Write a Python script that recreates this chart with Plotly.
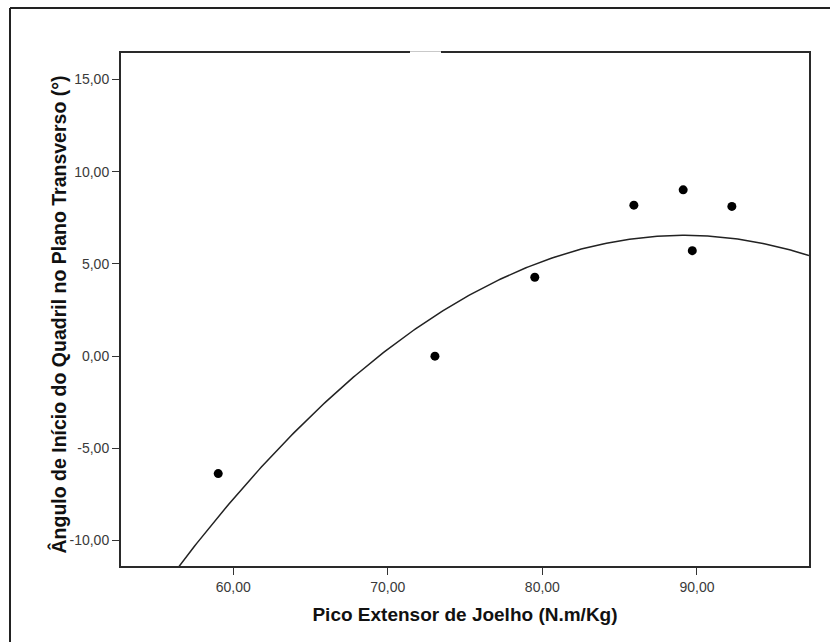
import numpy as np
import plotly.graph_objects as go

# Data
knee_extensor_peak = [59.03, 73.05, 79.51, 85.92, 89.11, 89.70, 92.26]
hip_onset_angle = [-6.37, 0.00, 4.28, 8.19, 9.02, 5.72, 8.12]

# Quadratic fit line (vertex form)
fit_vertex_x = 89.17
fit_peak_y = 6.55
fit_curvature = 0.0168

x_tick_values = [60, 70, 80, 90]
x_tick_labels = ["60,00", "70,00", "80,00", "90,00"]
y_tick_values = [-10, -5, 0, 5, 10, 15]
y_tick_labels = ["-10,00", "-5,00", "0,00", "5,00", "10,00", "15,00"]

x_title = "Pico Extensor de Joelho (N.m/Kg)"
y_title = "Ângulo de Início do Quadril no Plano Transverso (°)"

x_range = [52.74, 97.25]
y_range = [-11.38, 16.44]

fit_x = np.linspace(x_range[0], x_range[1], 300)
fit_y = fit_peak_y - fit_curvature * (fit_x - fit_vertex_x) ** 2

fig = go.Figure()
fig.add_trace(go.Scatter(x=fit_x, y=fit_y, mode="lines",
                         line=dict(color="#222222", width=1.5),
                         hoverinfo="skip", showlegend=False))
fig.add_trace(go.Scatter(x=knee_extensor_peak, y=hip_onset_angle, mode="markers",
                         marker=dict(color="black", size=9),
                         showlegend=False))

W, H = 830, 642
L, R, T, B = 121, 21, 53, 76
pw, ph = W - L - R, H - T - B

def px(xp):
    return (xp - L) / pw

def py(yp):
    return 1 - (yp - T) / ph

FONT = "Liberation Sans, Arial, sans-serif"

axis_common = dict(showline=True, linewidth=2, linecolor="#2a2a2a", mirror=True,
                   ticks="outside", tickcolor="#333333", tickwidth=1.2,
                   showgrid=False, zeroline=False,
                   tickfont=dict(family=FONT, size=14, color="#3a3a3a"))

fig.update_layout(
    width=W, height=H,
    margin=dict(l=L, r=R, t=T, b=B),
    paper_bgcolor="white", plot_bgcolor="white",
    xaxis=dict(range=x_range, tickvals=x_tick_values, ticktext=x_tick_labels, ticklen=7,
               title=dict(text=x_title, standoff=14,
                          font=dict(family=FONT, size=19, color="#111111", weight="bold")),
               **axis_common),
    yaxis=dict(range=y_range, tickvals=y_tick_values, ticktext=y_tick_labels, ticklen=7,
               **axis_common),
    annotations=[
        dict(text=y_title, xref="paper", yref="paper", x=px(57.5), y=py(315),
             xanchor="center", yanchor="middle", textangle=-90, showarrow=False,
             font=dict(family=FONT, size=19.5, color="#111111", weight="bold")),
    ],
    shapes=[
        dict(type="line", xref="paper", yref="paper", x0=px(10), x1=px(835), y0=py(8), y1=py(8),
             line=dict(color="#222222", width=2)),
        dict(type="line", xref="paper", yref="paper", x0=px(10), x1=px(10), y0=py(8), y1=py(650),
             line=dict(color="#222222", width=2)),
        dict(type="line", xref="paper", yref="paper", x0=px(410), x1=px(441), y0=py(52.5), y1=py(52.5),
             line=dict(color="white", width=2.5), layer="above"),
    ],
)

fig.write_html("out.html")
